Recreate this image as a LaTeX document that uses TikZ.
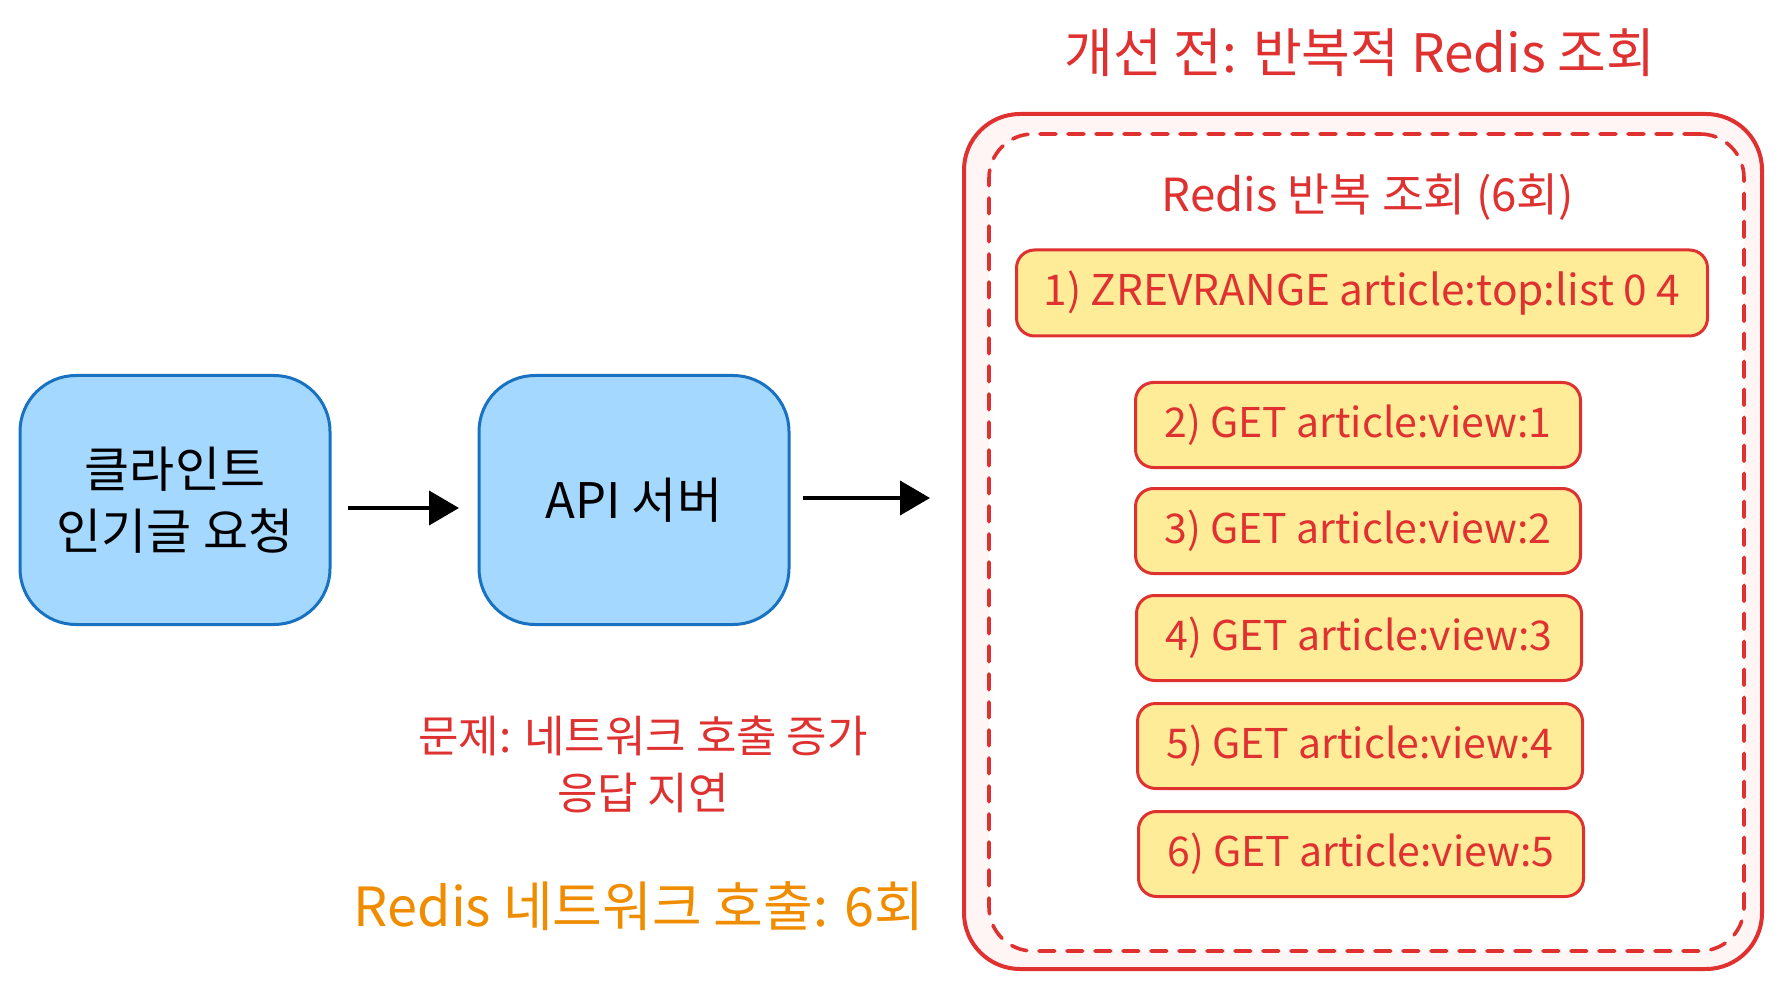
\documentclass[tikz,border=0pt]{standalone}
\usepackage{fontspec}
\setmainfont{Noto Sans CJK KR}
\usetikzlibrary{arrows.meta}
\definecolor{redS}{HTML}{E03131}
\definecolor{pinkF}{HTML}{FFF5F5}
\definecolor{yellowF}{HTML}{FFEC99}
\definecolor{blueF}{HTML}{A5D8FF}
\definecolor{blueS}{HTML}{1971C2}
\definecolor{orangeT}{HTML}{F08C00}
\tikzset{
  blk/.style={draw=blueS, fill=blueF, line width=1.5pt, rounded corners=28pt,
    minimum width=155pt, minimum height=124.5pt, inner sep=0pt, align=center,
    font=\fontsize{24.5}{31}\selectfont, text=black},
  cmd/.style={draw=redS, fill=yellowF, line width=1.5pt, rounded corners=9pt,
    minimum width=222.5pt, minimum height=42.5pt, inner sep=0pt, text=redS,
    font=\fontsize{20.5}{26}\selectfont},
  flow/.style={line width=2pt, -{Triangle[length=15pt, width=17pt]}},
}
\begin{document}
\begin{tikzpicture}[x=0.5pt, y=-0.5pt]
\useasboundingbox (0,0) rectangle (1782,989);
% title
\node[text=redS, font=\fontsize{26.5}{30}\selectfont] (title) at (1360,53) {개선 전: 반복적 Redis 조회};
% outer group
\node[draw=redS, fill=pinkF, line width=2pt, rounded corners=28pt,
  minimum width=399pt, minimum height=427.5pt, inner sep=0pt] (outer) at (1363,541.5) {};
\node[draw=redS, fill=white, line width=1.8pt, rounded corners=22pt, dash pattern=on 8pt off 6pt,
  line cap=round, minimum width=377.5pt, minimum height=408.5pt, inner sep=0pt] (inner) at (1366.5,542.5) {};
\node[text=redS, font=\fontsize{22.8}{26}\selectfont] (sub) at (1368,197) {Redis 반복 조회 (6회)};
% commands
\node[cmd, minimum width=345.5pt, minimum height=43pt, font=\fontsize{21.2}{26}\selectfont] (c1) at (1362,293) {1) ZREVRANGE article:top:list 0 4};
\node[cmd] (c2) at (1358,425) {2) GET article:view:1};
\node[cmd] (c3) at (1358,531) {3) GET article:view:2};
\node[cmd] (c4) at (1359,638) {4) GET article:view:3};
\node[cmd] (c5) at (1360,746) {5) GET article:view:4};
\node[cmd] (c6) at (1361,854) {6) GET article:view:5};
% flow
\node[blk] (client) at (175,500) {클라인트\\인기글 요청};
\node[blk] (api) at (634,500) {API 서버};
\coordinate (a1s) at (348,508);
\coordinate (a1e) at (459,508);
\coordinate (a2s) at (803,498);
\coordinate (a2e) at (930,498);
\draw[flow] (a1s) -- (a1e);
\draw[flow] (a2s) -- (a2e);
% notes
\node[text=redS, align=center, font=\fontsize{22}{28.5}\selectfont] (prob) at (643,764) {문제: 네트워크 호출 증가\\응답 지연};
\node[text=orangeT, font=\fontsize{27}{30}\selectfont] (count) at (639,906) {Redis 네트워크 호출: 6회};
\end{tikzpicture}
\end{document}
